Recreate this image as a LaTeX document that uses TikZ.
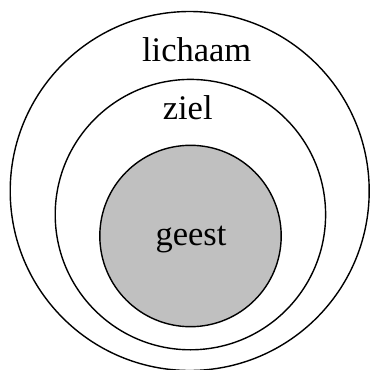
\documentclass[tikz,border=0pt]{standalone}
\usepackage{fontspec}
\setmainfont{Liberation Serif}
\tikzstyle{ring}=[black,line width = 1.4pt]
\tikzstyle{core}=[ring,fill={rgb,255:red,192;green,192;blue,192}]
\tikzstyle{word}=[anchor=base,inner sep=0pt,font=\fontsize{34.5}{40}\selectfont]
\def\centercircle[#1](#2)(#3)% Syntax: [draw options] (center) (radius)
    { \draw[#1] (#2) circle (#3); }
\begin{document}
\begin{tikzpicture}[x=1pt,y=-1pt]
	\useasboundingbox (0,0) rectangle (370,370);
	\centercircle[ring](189.7,191)(179.5)
	\centercircle[ring](190.4,214.6)(135.2)
	\centercircle[core](190.5,236)(90.7)
	\node[word] (lichaam) at (196.7,61.7) {lichaam};
	\node[word] (ziel) at (187.7,119.3) {ziel};
	\node[word] (geest) at (191,245) {geest};
\end{tikzpicture}
\end{document}
